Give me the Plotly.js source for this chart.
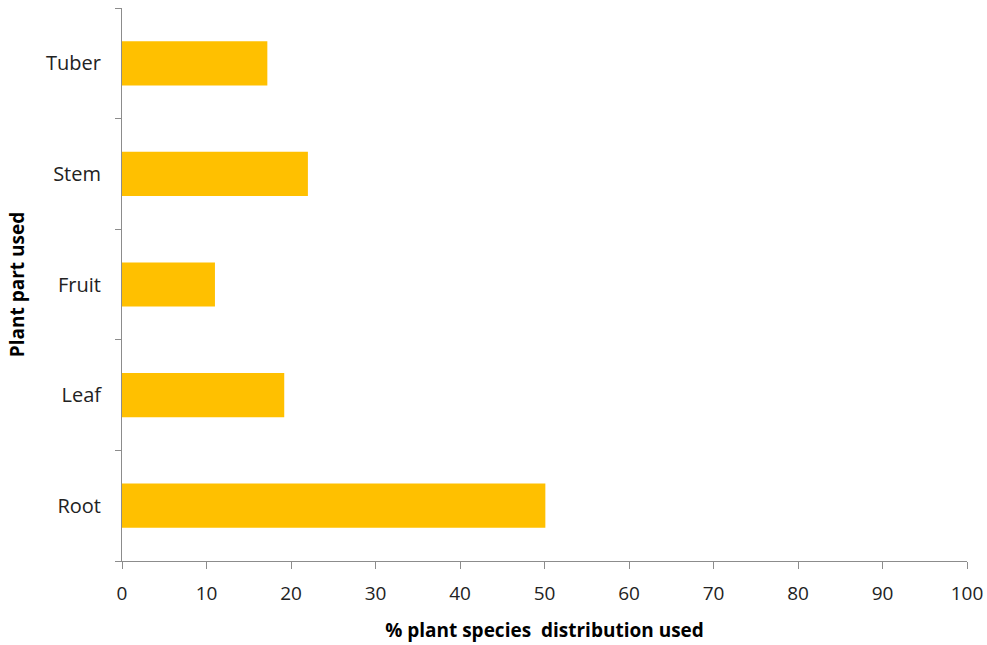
<!DOCTYPE html>
<html>
<head>
<meta charset="utf-8">
<script src="https://cdn.plot.ly/plotly-3.0.1.min.js"></script>
<style>html,body{margin:0;padding:0;background:#fff;}#chart{width:987px;height:645px;}</style>
</head>
<body>
<div id="chart"></div>
<script>
const categories = ["Root", "Leaf", "Fruit", "Stem", "Tuber"];
const values = [50.1, 19.2, 11, 22, 17.2];
const xTicks = [0, 10, 20, 30, 40, 50, 60, 70, 80, 90, 100];

const fontFam = "Open Sans, Noto Sans, sans-serif";
Plotly.newPlot("chart", [{
  type: "bar",
  orientation: "h",
  y: categories,
  x: values,
  width: 0.4,
  marker: {color: "#FFC000"},
  hoverinfo: "x+y"
}], {
  width: 987, height: 645,
  margin: {l: 122, r: 20, t: 8, b: 84},
  paper_bgcolor: "#ffffff",
  plot_bgcolor: "#ffffff",
  showlegend: false,
  font: {family: fontFam, color: "#222", size: 19},
  xaxis: {
    range: [0, 100],
    tickvals: xTicks,
    ticktext: xTicks.map(String),
    showgrid: false,
    zeroline: false,
    showline: true,
    linecolor: "#8c8c8c",
    linewidth: 1,
    ticks: "outside",
    ticklen: 7,
    tickcolor: "#8c8c8c",
    tickfont: {size: 19, family: fontFam, color: "#222"},
    ticklabelstandoff: 8,
    title: {text: "% plant species  distribution used", font: {size: 19, family: fontFam, color: "#000", weight: "bold"}, standoff: 18},
    fixedrange: true
  },
  yaxis: {
    type: "category",
    categoryorder: "array",
    categoryarray: categories,
    range: [-0.5, 4.5],
    showgrid: false,
    zeroline: false,
    showline: true,
    linecolor: "#8c8c8c",
    linewidth: 1,
    ticks: "outside",
    tickson: "boundaries",
    ticklen: 6,
    tickcolor: "#8c8c8c",
    tickfont: {size: 20, family: fontFam, color: "#222"},
    ticklabelstandoff: 16,
    title: {text: "Plant part used", font: {size: 19, family: fontFam, color: "#000", weight: "bold"}, standoff: 16},
    fixedrange: true
  }
}, {displayModeBar: false, staticPlot: true});
</script>
</body>
</html>
